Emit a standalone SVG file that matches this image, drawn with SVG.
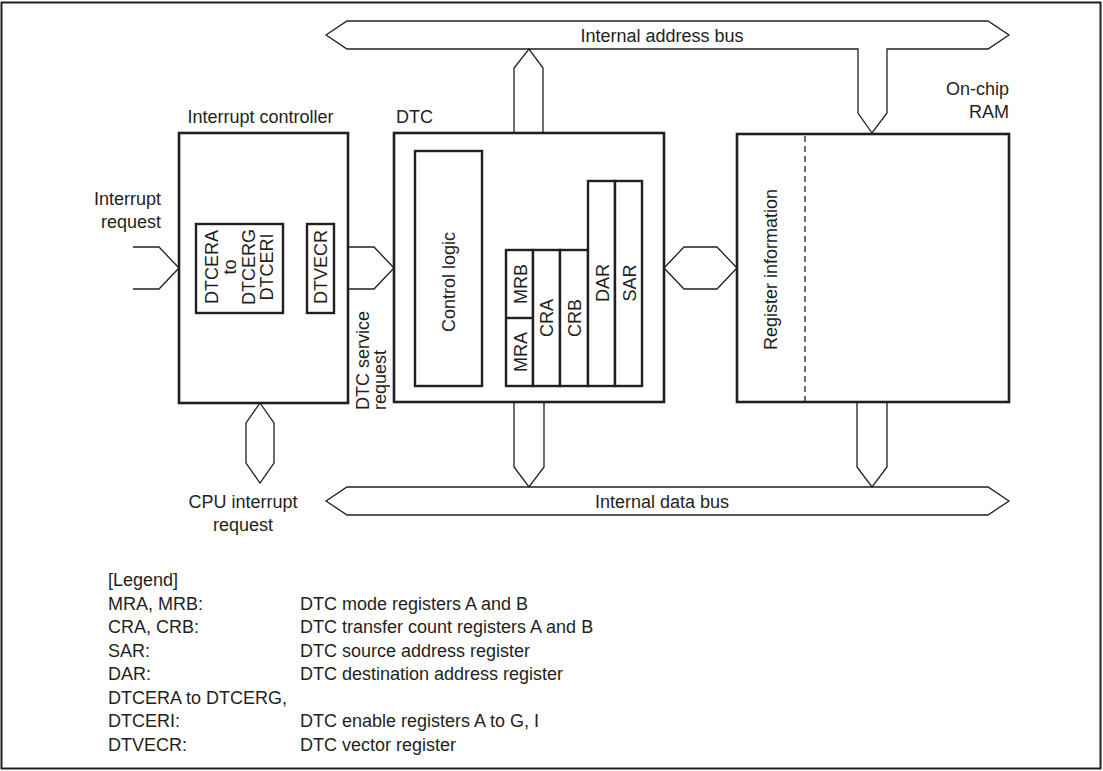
<svg xmlns="http://www.w3.org/2000/svg" width="1103" height="771" viewBox="0 0 1103 771">
<style>
  .frame{fill:none;stroke:#231f20;stroke-width:2}
  .box{fill:#fff;stroke:#231f20;stroke-width:2.6}
  .reg{fill:#fff;stroke:#231f20;stroke-width:2.4}
  .thin{fill:none;stroke:#231f20;stroke-width:1.3;stroke-linejoin:miter}
  .bus{fill:#fff;stroke:#231f20;stroke-width:1.3}
  .dash{fill:none;stroke:#231f20;stroke-width:1.3;stroke-dasharray:6 4}
  text{font-family:"Liberation Sans",Arial,sans-serif;font-size:18px;fill:#231f20}
  .mid{text-anchor:middle}
  .end{text-anchor:end}
</style>
<rect class="frame" x="1.5" y="2.5" width="1099" height="766"/>

<g id="connectors">
  <path id="address-bus" class="bus" d="M347,21 L988,21 L1009,35 L988,49 L887,49 L887,113 L872,133 L858,113 L858,49 L347,49 L326,35 Z"/>
  <path id="data-bus" class="bus" d="M347,487 L988,487 L1009,501 L988,515 L347,515 L326,501 Z"/>
  <polyline class="thin" points="514,133 514,68 529,49 543,68 543,133"/>
  <polyline class="thin" points="514,402 514,467 529,487 544,467 544,402"/>
  <polyline class="thin" points="857,402 857,467 872,487 887,467 887,402"/>
  <polygon class="thin" points="260,403 274,423 274,463 260,483 246,463 246,423"/>
  <polygon class="thin" points="664,268 684,247 717,247 737,268 717,289 684,289"/>
  <polyline class="thin" points="133,247 159,247 179,268 159,289 133,289"/>
  <polyline class="thin" points="348,247 374,247 394,268 374,289 348,289"/>
  <text class="mid" x="662" y="41.5">Internal address bus</text>
  <text class="mid" x="662" y="507.5">Internal data bus</text>
</g>

<g id="interrupt-request-label">
  <text class="end" x="161" y="205">Interrupt</text>
  <text class="end" x="161" y="228">request</text>
</g>

<g id="interrupt-controller">
  <text x="187.5" y="123">Interrupt controller</text>
  <rect class="box" x="179" y="133" width="169" height="270"/>
  <rect class="reg" x="196" y="224" width="87" height="89"/>
  <text class="mid" transform="translate(217.5,267) rotate(-90)">DTCERA</text>
  <text class="mid" transform="translate(236,267) rotate(-90)">to</text>
  <text class="mid" transform="translate(254.5,267) rotate(-90)">DTCERG</text>
  <text class="mid" transform="translate(273,267) rotate(-90)">DTCERI</text>
  <rect class="reg" x="307" y="224" width="27" height="89"/>
  <text class="mid" transform="translate(327,267) rotate(-90)">DTVECR</text>
</g>

<g id="dtc-service-request-label">
  <text transform="translate(369,410) rotate(-90)">DTC service</text>
  <text transform="translate(386,410) rotate(-90)">request</text>
</g>

<g id="cpu-interrupt-request-label">
  <text class="mid" x="243" y="508">CPU interrupt</text>
  <text class="mid" x="243" y="531">request</text>
</g>

<g id="dtc">
  <text x="396" y="123">DTC</text>
  <rect class="box" x="394" y="133" width="270" height="269"/>
  <rect class="reg" x="415" y="151" width="67" height="235"/>
  <text class="mid" transform="translate(455,282) rotate(-90)">Control logic</text>
  <rect class="reg" x="506" y="250" width="27" height="136"/>
  <line class="reg" x1="506" y1="318" x2="533" y2="318"/>
  <rect class="reg" x="533" y="250" width="27" height="136"/>
  <rect class="reg" x="560" y="250" width="28" height="136"/>
  <rect class="reg" x="588" y="181" width="27" height="205"/>
  <rect class="reg" x="615" y="181" width="27" height="205"/>
  <text class="mid" transform="translate(526.5,352) rotate(-90)">MRA</text>
  <text class="mid" transform="translate(526.5,284) rotate(-90)">MRB</text>
  <text class="mid" transform="translate(553,318) rotate(-90)">CRA</text>
  <text class="mid" transform="translate(581,318) rotate(-90)">CRB</text>
  <text class="mid" transform="translate(608.5,283) rotate(-90)">DAR</text>
  <text class="mid" transform="translate(635.5,283) rotate(-90)">SAR</text>
</g>

<g id="on-chip-ram">
  <text class="end" x="1009" y="95">On-chip</text>
  <text class="end" x="1009" y="118">RAM</text>
  <rect class="box" x="737" y="134" width="272" height="268"/>
  <line class="dash" x1="805" y1="136" x2="805" y2="401"/>
  <text class="mid" transform="translate(777,269.5) rotate(-90)">Register information</text>
</g>

<g id="legend">
  <text x="108" y="586">[Legend]</text>
  <text x="108" y="609.5">MRA, MRB:</text>
  <text x="300" y="609.5">DTC mode registers A and B</text>
  <text x="108" y="633">CRA, CRB:</text>
  <text x="300" y="633">DTC transfer count registers A and B</text>
  <text x="108" y="656.5">SAR:</text>
  <text x="300" y="656.5">DTC source address register</text>
  <text x="108" y="680">DAR:</text>
  <text x="300" y="680">DTC destination address register</text>
  <text x="108" y="703.5">DTCERA to DTCERG,</text>
  <text x="108" y="727">DTCERI:</text>
  <text x="300" y="727">DTC enable registers A to G, I</text>
  <text x="108" y="750.5">DTVECR:</text>
  <text x="300" y="750.5">DTC vector register</text>
</g>
</svg>
